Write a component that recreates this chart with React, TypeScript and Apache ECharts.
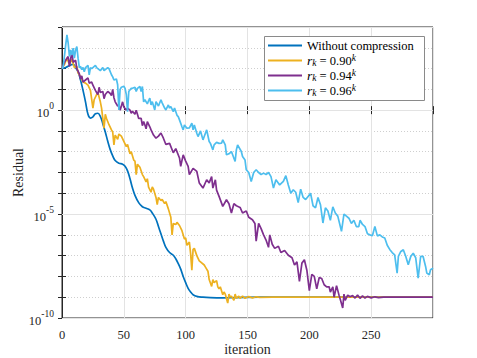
import React, { useEffect, useRef } from 'react';
import * as echarts from 'echarts';

const FONT = 'Liberation Serif';
const TEXT = '#262626';

// Series names and colours (MATLAB default palette)
const seriesNames = ['Without compression', 'r_k = 0.90^k', 'r_k = 0.94^k', 'r_k = 0.96^k'];
const seriesColors = ['#0072BD', '#EDB120', '#7E2F8E', '#4DBEEE'];

// Axis ranges (x: iteration, y: log10 of residual)
const xRange = [0, 300];
const yExpRange = [-10, 4];

// ---- Data: iteration and log10(residual) ----
const noCompIter = [0, 3, 6, 9, 11, 13, 15, 17, 19, 21, 23, 25, 27, 29, 31, 33, 35, 37, 39, 41, 43, 46, 49, 51, 53, 55, 57, 59, 62, 65, 68, 71, 73, 76, 78, 80, 82, 84, 87, 90, 92, 94, 96, 98, 100, 102, 104, 106, 109, 114, 120, 130, 140, 160, 200, 250, 300];
const noCompLogRes = [2.0, 2.05, 2.15, 2.2, 2.05, 1.85, 1.45, 0.95, 0.4, -0.2, -0.38, -0.32, -0.17, -0.15, -0.3, -0.65, -1.05, -1.5, -1.9, -2.2, -2.42, -2.55, -2.6, -2.7, -2.92, -3.3, -3.75, -4.1, -4.45, -4.65, -4.72, -4.8, -4.95, -5.25, -5.6, -5.95, -6.3, -6.6, -6.85, -6.98, -7.15, -7.38, -7.65, -8.0, -8.3, -8.57, -8.75, -8.88, -8.96, -9.0, -9.02, -9.03, -9.02, -9.0, -9.0, -9.0, -9.0];

const r090Iter = [0, 2, 4, 6, 8, 10, 12, 13, 15, 17, 19, 21, 23, 25, 26, 28, 29, 31, 32, 33, 34, 35, 36, 38, 40, 41, 42, 43, 45, 46, 48, 50, 52, 53, 55, 56, 58, 59, 60, 61, 63, 65, 66, 68, 69, 70, 72, 73, 74, 76, 77, 78, 80, 81, 83, 84, 86, 88, 89, 90, 92, 93, 95, 97, 99, 100, 101, 103, 104, 105, 106, 107, 109, 111, 112, 115, 116, 118, 119, 121, 122, 123, 125, 126, 127, 128, 130, 131, 132, 134, 135, 136, 137, 139, 140, 141, 143, 144, 146, 148, 151, 154, 157, 160, 170, 200, 250, 300];
const r090LogRes = [2.0, 2.2, 2.5, 2.2, 2.45, 2.05, 2.1, 1.8, 1.6, 1.35, 1.3, 1.2, 0.95, 0.1, 0.5, 0.75, 0.85, 0.4, 0.1, -0.4, -0.87, -0.2, -0.4, -0.7, -0.95, -1.05, -1.67, -1.2, -1.4, -1.15, -1.25, -1.5, -1.75, -1.65, -2.1, -2.0, -2.4, -2.45, -3.1, -2.6, -2.75, -3.1, -3.2, -3.45, -3.3, -3.7, -3.95, -3.7, -3.8, -4.2, -4.55, -4.2, -4.35, -4.3, -4.5, -4.4, -4.75, -5.15, -6.0, -5.45, -5.5, -5.4, -5.55, -5.8, -6.2, -6.15, -6.5, -6.35, -6.9, -7.7, -6.7, -6.65, -7.0, -7.25, -7.3, -7.45, -7.55, -7.75, -8.15, -8.48, -8.15, -8.3, -8.2, -8.5, -8.6, -8.5, -8.88, -8.75, -8.85, -9.28, -8.85, -9.0, -8.95, -9.15, -8.85, -9.05, -8.95, -9.05, -8.95, -9.05, -8.97, -9.03, -8.98, -9.01, -9.0, -9.0, -9.0, -9.0];

const r094Iter = [0, 2, 4, 5, 6, 8, 9, 11, 12, 14, 15, 16, 17, 19, 21, 22, 24, 25, 27, 28, 29, 30, 31, 33, 34, 35, 37, 39, 40, 41, 42, 43, 45, 46, 47, 49, 50, 52, 53, 55, 56, 57, 59, 60, 61, 62, 64, 65, 66, 67, 68, 69, 71, 72, 74, 76, 78, 80, 82, 84, 87, 90, 92, 95, 96, 98, 100, 102, 103, 106, 109, 111, 114, 117, 119, 121, 122, 124, 125, 127, 130, 133, 135, 137, 139, 141, 144, 146, 149, 151, 154, 156, 157, 159, 161, 163, 165, 167, 168, 170, 172, 175, 177, 180, 183, 186, 188, 190, 192, 194, 196, 198, 200, 202, 204, 206, 208, 210, 212, 214, 216, 217, 219, 220, 222, 224, 225, 227, 228, 229, 231, 233, 235, 237, 239, 241, 243, 245, 247, 250, 253, 256, 260, 280, 300];
const r094LogRes = [2.0, 2.3, 2.5, 2.58, 2.1, 2.82, 2.3, 2.4, 2.0, 1.75, 1.5, 1.65, 1.35, 1.45, 1.55, 1.3, 1.35, 1.2, 0.95, 0.85, 0.75, 1.1, 0.85, 0.9, 0.55, 0.75, 0.9, 0.8, 0.7, 1.0, 0.6, 0.4, 0.2, 0.25, 0.0, 0.4, 0.15, 0.0, 0.1, 0.0, -0.15, -0.05, -0.2, 0.0, -0.2, -0.4, -0.4, -0.75, -0.55, -0.7, -0.9, -0.55, -0.8, -0.95, -1.2, -1.35, -1.25, -1.1, -1.35, -1.65, -1.6, -2.05, -1.85, -2.3, -2.7, -2.15, -2.45, -2.7, -3.1, -2.8, -2.95, -3.5, -3.75, -3.35, -3.5, -3.2, -3.75, -3.35, -3.85, -4.15, -4.63, -4.31, -4.5, -4.95, -4.5, -4.6, -4.68, -4.95, -4.85, -5.15, -5.27, -5.45, -6.3, -5.45, -5.7, -6.0, -6.25, -6.6, -6.0, -6.45, -6.65, -6.55, -6.85, -6.75, -6.98, -7.1, -7.45, -7.3, -8.24, -7.36, -7.2, -7.7, -8.68, -7.9, -8.0, -8.6, -8.05, -8.1, -8.4, -8.5, -8.5, -8.75, -8.5, -9.0, -8.45, -8.9, -9.1, -9.52, -8.85, -9.15, -8.9, -8.98, -8.92, -9.04, -8.9, -9.05, -8.94, -9.04, -8.96, -9.03, -8.98, -9.02, -9.0, -9.0, -9.0];

const r096Iter = [0, 1, 3, 4, 5, 6, 7, 8, 9, 10, 11, 12, 13, 14, 15, 16, 17, 18, 19, 21, 22, 23, 24, 25, 27, 28, 30, 31, 33, 34, 36, 37, 38, 40, 41, 42, 44, 45, 46, 47, 48, 50, 51, 52, 53, 54, 56, 57, 59, 60, 61, 63, 64, 65, 66, 67, 69, 70, 71, 72, 73, 75, 76, 78, 80, 81, 83, 84, 86, 87, 88, 90, 91, 93, 94, 95, 97, 98, 99, 101, 103, 105, 106, 107, 109, 110, 112, 114, 115, 117, 119, 120, 122, 123, 125, 127, 129, 130, 132, 133, 135, 137, 140, 141, 142, 145, 146, 148, 149, 151, 153, 155, 157, 159, 161, 163, 165, 167, 169, 171, 173, 176, 179, 181, 183, 185, 187, 189, 191, 193, 195, 197, 199, 201, 203, 205, 207, 209, 211, 213, 215, 217, 219, 221, 223, 226, 228, 230, 232, 234, 236, 238, 240, 241, 243, 245, 247, 249, 251, 253, 255, 257, 259, 261, 263, 265, 267, 269, 271, 272, 274, 276, 278, 280, 282, 284, 286, 288, 290, 292, 294, 295, 297, 298, 300];
const r096LogRes = [2.0, 2.1, 3.14, 3.62, 3.22, 2.58, 2.9, 2.65, 2.98, 2.5, 2.9, 3.06, 2.5, 2.05, 2.1, 1.95, 2.05, 1.85, 2.05, 2.15, 1.7, 2.05, 2.0, 2.05, 2.15, 2.05, 1.95, 1.9, 2.05, 1.9, 2.0, 2.05, 2.0, 1.7, 1.6, 1.45, 1.5, 1.22, 0.01, 1.0, 1.1, 1.15, 1.05, 0.75, -0.07, 0.9, 1.05, 1.05, 1.1, 0.9, 1.05, 1.14, 0.9, 1.14, 0.4, 0.5, 0.3, 0.45, 0.58, 0.25, 0.41, 0.01, 0.41, 0.2, 0.5, 0.35, 0.1, 0.01, 0.25, 0.1, 0.17, -0.07, 0.1, -0.25, -0.31, -0.47, -0.8, -0.95, -0.71, -0.87, -0.85, -0.63, -0.95, -0.71, -1.11, -1.27, -1.0, -1.43, -1.27, -0.95, -1.51, -1.6, -1.91, -1.67, -1.55, -1.6, -1.59, -1.43, -1.67, -2.15, -2.1, -1.99, -2.47, -1.91, -1.67, -1.99, -2.23, -2.4, -2.87, -3.0, -3.43, -3.0, -2.87, -3.0, -3.1, -3.03, -3.1, -3.0, -3.2, -3.75, -3.35, -3.6, -3.43, -3.15, -3.6, -4.0, -3.83, -3.95, -4.45, -3.8, -4.2, -4.3, -4.15, -4.0, -4.6, -4.7, -4.2, -4.55, -5.43, -4.7, -4.85, -5.3, -4.65, -4.95, -5.1, -5.83, -5.0, -5.1, -5.2, -5.45, -5.3, -5.6, -5.6, -5.3, -5.5, -5.6, -5.95, -6.0, -6.04, -5.6, -6.05, -6.0, -6.1, -6.15, -6.5, -6.7, -6.85, -6.96, -7.84, -7.04, -6.8, -6.72, -7.04, -7.44, -7.04, -6.88, -7.1, -8.08, -7.04, -7.04, -7.52, -7.84, -7.92, -7.68, -7.6];

const seriesIters = [noCompIter, r090Iter, r094Iter, r096Iter];
const seriesLogRes = [noCompLogRes, r090LogRes, r094LogRes, r096LogRes];

const legendRich: Record<string, string> = {
  'Without compression': '{n|Without compression}',
  'r_k = 0.90^k': '{i|r}{sub|k}{n| = 0.90}{sup|k}',
  'r_k = 0.94^k': '{i|r}{sub|k}{n| = 0.94}{sup|k}',
  'r_k = 0.96^k': '{i|r}{sub|k}{n| = 0.96}{sup|k}',
};

export default function App() {
  const ref = useRef<HTMLDivElement>(null);
  useEffect(() => {
    if (!ref.current) return;
    const chart = echarts.init(ref.current, null, { renderer: 'svg' });
    const series = seriesNames.map((name, k) => ({
      name,
      type: 'line',
      xAxisIndex: 0,
      yAxisIndex: 0,
      symbol: 'none',
      smooth: k === 0 ? 0.4 : false,
      color: seriesColors[k],
      lineStyle: { width: 1.7, color: seriesColors[k] },
      data: seriesIters[k].map((it, j) => [it, seriesLogRes[k][j]]),
      z: 2,
    }));
    const option = {
      animation: false,
      backgroundColor: '#ffffff',
      textStyle: { fontFamily: FONT },
      grid: {
        left: 62,
        right: 44,
        top: 27,
        bottom: 40,
        containLabel: false,
        outerBoundsMode: 'none',
        show: true,
        borderColor: TEXT,
        borderWidth: 1,
        backgroundColor: 'transparent',
      },
      graphic: [
        {
          type: 'rect',
          z: 9,
          shape: { x: 264.5, y: 36.5, width: 160, height: 64 },
          style: { fill: '#ffffff', stroke: '#8a8a8a', lineWidth: 1 },
        },
      ],
      legend: {
        data: seriesNames,
        orient: 'vertical',
        left: 264,
        top: 36,
        z: 10,
        backgroundColor: 'transparent',
        borderWidth: 0,
        padding: [2, 2, 3, 4],
        itemWidth: 34,
        itemHeight: 2,
        itemGap: 0,
        icon: 'rect',
        formatter: (name: string) => legendRich[name] || name,
        textStyle: {
          fontFamily: FONT,
          fontSize: 12.5,
          color: '#000',
          lineHeight: 15,
          rich: {
            n: { fontFamily: FONT, fontSize: 12.5, lineHeight: 15, color: '#000' },
            i: { fontFamily: FONT, fontSize: 13.5, fontStyle: 'italic', lineHeight: 15, color: '#000' },
            sub: { fontFamily: FONT, fontSize: 9.5, fontStyle: 'italic', lineHeight: 9, verticalAlign: 'bottom', color: '#000' },
            sup: { fontFamily: FONT, fontSize: 9.5, fontStyle: 'italic', lineHeight: 9, verticalAlign: 'top', color: '#000' },
          },
        },
      },
      xAxis: [
        {
          type: 'value',
          position: 'bottom',
          min: xRange[0],
          max: xRange[1],
          interval: 50,
          name: 'iteration',
          nameLocation: 'middle',
          nameGap: 24,
          nameMoveOverlap: false,
          nameTextStyle: { fontFamily: FONT, fontSize: 14, color: TEXT },
          axisLine: { show: true, lineStyle: { color: TEXT, width: 1 } },
          axisTick: { show: true, inside: true, length: 4, lineStyle: { color: TEXT } },
          axisLabel: {
            margin: 10,
            fontFamily: FONT,
            fontSize: 12.5,
            color: TEXT,
            formatter: (v: number) => (v === 300 ? '' : String(v)),
          },
          splitLine: { show: true, lineStyle: { color: '#e3e3e3', width: 1 } },
        },
        {
          type: 'value',
          position: 'top',
          min: xRange[0],
          max: xRange[1],
          interval: 50,
          axisLine: { show: false },
          axisTick: { show: true, inside: true, length: 4, lineStyle: { color: TEXT } },
          axisLabel: { show: false },
          splitLine: { show: false },
        },
      ],
      yAxis: [
        {
          type: 'value',
          position: 'left',
          min: yExpRange[0],
          max: yExpRange[1],
          interval: 1,
          name: 'Residual',
          nameLocation: 'middle',
          nameGap: 37,
          nameMoveOverlap: false,
          nameTextStyle: { fontFamily: FONT, fontSize: 14, color: TEXT },
          axisLine: { show: true, lineStyle: { color: TEXT, width: 1 } },
          axisTick: { show: true, inside: true, length: 4, lineStyle: { color: TEXT } },
          axisLabel: {
            margin: 8,
            color: TEXT,
            fontFamily: FONT,
            formatter: (v: number) => (v % 5 === 0 ? `{b|10}{s|${v}}` : ''),
            rich: {
              b: { fontFamily: FONT, fontSize: 12.5, color: TEXT, lineHeight: 18, verticalAlign: 'bottom' },
              s: { fontFamily: FONT, fontSize: 9.5, color: TEXT, lineHeight: 10, verticalAlign: 'top' },
            },
          },
          splitLine: { show: true, lineStyle: { color: '#cfcfcf', width: 1, type: [1, 2] } },
          z: 0,
        },
        {
          type: 'value',
          position: 'right',
          min: yExpRange[0],
          max: yExpRange[1],
          interval: 1,
          axisLine: { show: false },
          axisTick: { show: true, inside: true, length: 4, lineStyle: { color: TEXT } },
          axisLabel: { show: false },
          splitLine: { show: false },
        },
        {
          type: 'value',
          position: 'left',
          min: yExpRange[0],
          max: yExpRange[1],
          interval: 5,
          axisLine: { show: false },
          axisTick: { show: false },
          axisLabel: { show: false },
          splitLine: { show: true, lineStyle: { color: '#e3e3e3', width: 1 } },
          z: 1,
        },
      ],
      series,
    };
    chart.setOption(option as any);
    return () => chart.dispose();
  }, []);
  return (
    <div
      ref={ref}
      style={{ position: 'absolute', left: 0, top: 0, width: 477, height: 358, background: '#fff' }}
    />
  );
}
